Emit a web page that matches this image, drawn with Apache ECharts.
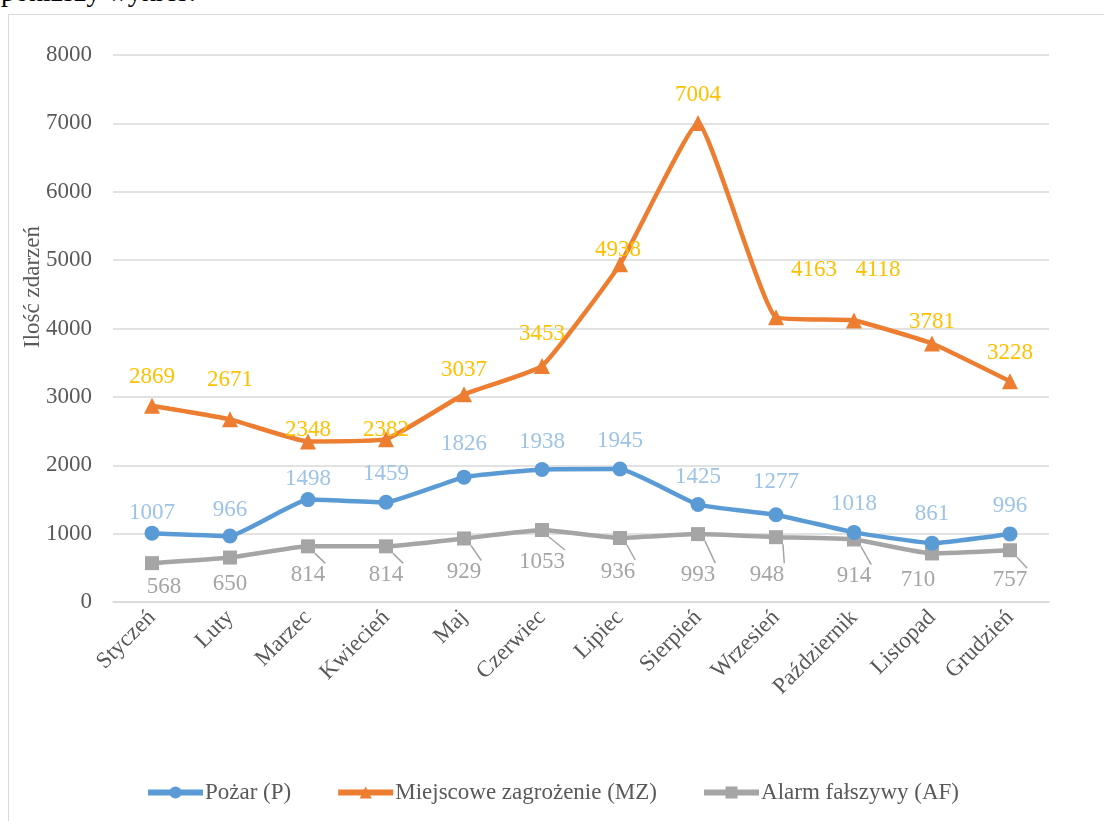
<!DOCTYPE html>
<html>
<head>
<meta charset="utf-8">
<script src="https://cdn.jsdelivr.net/npm/echarts@6/dist/echarts.min.js"></script>
<style>
	html, body { margin: 0; padding: 0; background: #fff; overflow: hidden; }
	#intro { position: absolute; left: 1px; top: -24px; font: 28px 'Liberation Serif', serif; color: #000; white-space: nowrap; }
	#frame { position: absolute; left: 8px; top: 14px; width: 1110px; height: 820px; border: 1px solid #d9d9d9; box-sizing: border-box; }
	#chart { position: absolute; left: 0; top: 0; width: 1104px; height: 821px; }
</style>
</head>
<body>
<div id="intro">poniższy wykres:</div>
<div id="frame"></div>
<div id="chart"></div>
<script>
const months = ['Styczeń', 'Luty', 'Marzec', 'Kwiecień', 'Maj', 'Czerwiec', 'Lipiec', 'Sierpień', 'Wrzesień', 'Październik', 'Listopad', 'Grudzień'];
const pozar = [1007, 966, 1498, 1459, 1826, 1938, 1945, 1425, 1277, 1018, 861, 996];
const zagrozenie = [2869, 2671, 2348, 2382, 3037, 3453, 4938, 7004, 4163, 4118, 3781, 3228];
const alarm = [568, 650, 814, 814, 929, 1053, 936, 993, 948, 914, 710, 757];
const yTicks = [0, 1000, 2000, 3000, 4000, 5000, 6000, 7000, 8000];

// label nudges (px)
const offP = [[0, 8], [0, 2], [0, 7], [0, 0], [0, -5], [0, 0], [0, 0], [0, 0], [0, -5], [0, 0], [0, -1], [0, 0]];
const offZ = [[0, 0], [0, -11], [0, 17], [0, 19], [0, 4], [0, -3], [-2, 14], [0, 0], [38, -19], [24, -22], [0, 7], [0, 0]];
const offA = [[12, 1], [0, 4], [0, 6], [0, 6], [0, 11], [0, 9], [-2, 11], [0, 18], [-9, 15], [0, 14], [-14, 4], [0, 7]];
const noLeader = [0, 1, 10];

var font = 'Liberation Serif';

var chartDom = document.getElementById('chart');
var myChart = echarts.init(chartDom);

function withOffsets(values, offs) {
	return values.map((v, i) => ({ value: v, label: { offset: offs[i] } }));
}

var option = {
	animation: false,
	grid: { left: 113, right: 55, top: 55, bottom: 219 },
	legend: {
		bottom: 12,
		left: 'center',
		itemWidth: 55,
		itemHeight: 15,
		itemGap: 44,
		lineStyle: { width: 6 },
		textStyle: { fontFamily: font, fontSize: 23, color: '#595959', padding: [0, 0, 0, -3] },
		data: ['Pożar (P)', 'Miejscowe zagrożenie (MZ)', 'Alarm fałszywy (AF)']
	},
	graphic: [{
		type: 'text',
		left: 21,
		top: 226,
		rotation: Math.PI / 2,
		style: { text: 'Ilość zdarzeń', fontFamily: font, fontSize: 23, fill: '#595959' }
	}],
	xAxis: {
		type: 'category',
		data: months,
		boundaryGap: true,
		axisLine: { lineStyle: { color: '#d9d9d9', width: 1.5 } },
		axisTick: { show: false },
		axisLabel: { rotate: 45, fontFamily: font, fontSize: 23, color: '#595959', margin: 12 }
	},
	yAxis: {
		type: 'value',
		min: 0,
		max: 8000,
		interval: 1000,
		axisLine: { show: false },
		axisTick: { show: false },
		splitLine: { lineStyle: { color: '#d9d9d9', width: 1.5 } },
		axisLabel: {
			fontFamily: font, fontSize: 23, color: '#595959', margin: 21,
			formatter: v => yTicks.includes(v) ? String(v) : ''
		}
	},
	series: [
		{
			name: 'Pożar (P)',
			type: 'line',
			data: withOffsets(pozar, offP),
			smooth: 0.12,
			symbol: 'circle',
			symbolSize: 15,
			itemStyle: { color: '#5B9BD5' },
			lineStyle: { color: '#5B9BD5', width: 4.5 },
			label: { show: true, position: 'top', distance: 9, fontFamily: font, fontSize: 23, color: '#9DC3E6' },
			z: 3
		},
		{
			name: 'Miejscowe zagrożenie (MZ)',
			type: 'line',
			data: withOffsets(zagrozenie, offZ),
			smooth: 0.12,
			symbol: 'triangle',
			symbolSize: 16,
			itemStyle: { color: '#ED7D31' },
			lineStyle: { color: '#ED7D31', width: 4.5 },
			label: { show: true, position: 'top', distance: 9, fontFamily: font, fontSize: 23, color: '#FFC000' },
			z: 2
		},
		{
			name: 'Alarm fałszywy (AF)',
			type: 'line',
			data: alarm.map((v, i) => ({
				value: v,
				label: { offset: offA[i] },
				labelLine: { show: !noLeader.includes(i) }
			})),
			smooth: 0.12,
			symbol: 'rect',
			symbolSize: 14,
			itemStyle: { color: '#A5A5A5' },
			lineStyle: { color: '#A5A5A5', width: 4.5 },
			label: { show: true, position: 'bottom', distance: 4, fontFamily: font, fontSize: 23, color: '#A5A5A5' },
			labelLine: { show: true, lineStyle: { color: '#A5A5A5', width: 1.5 } },
			z: 1
		}
	]
};

myChart.setOption(option);
</script>
</body>
</html>
